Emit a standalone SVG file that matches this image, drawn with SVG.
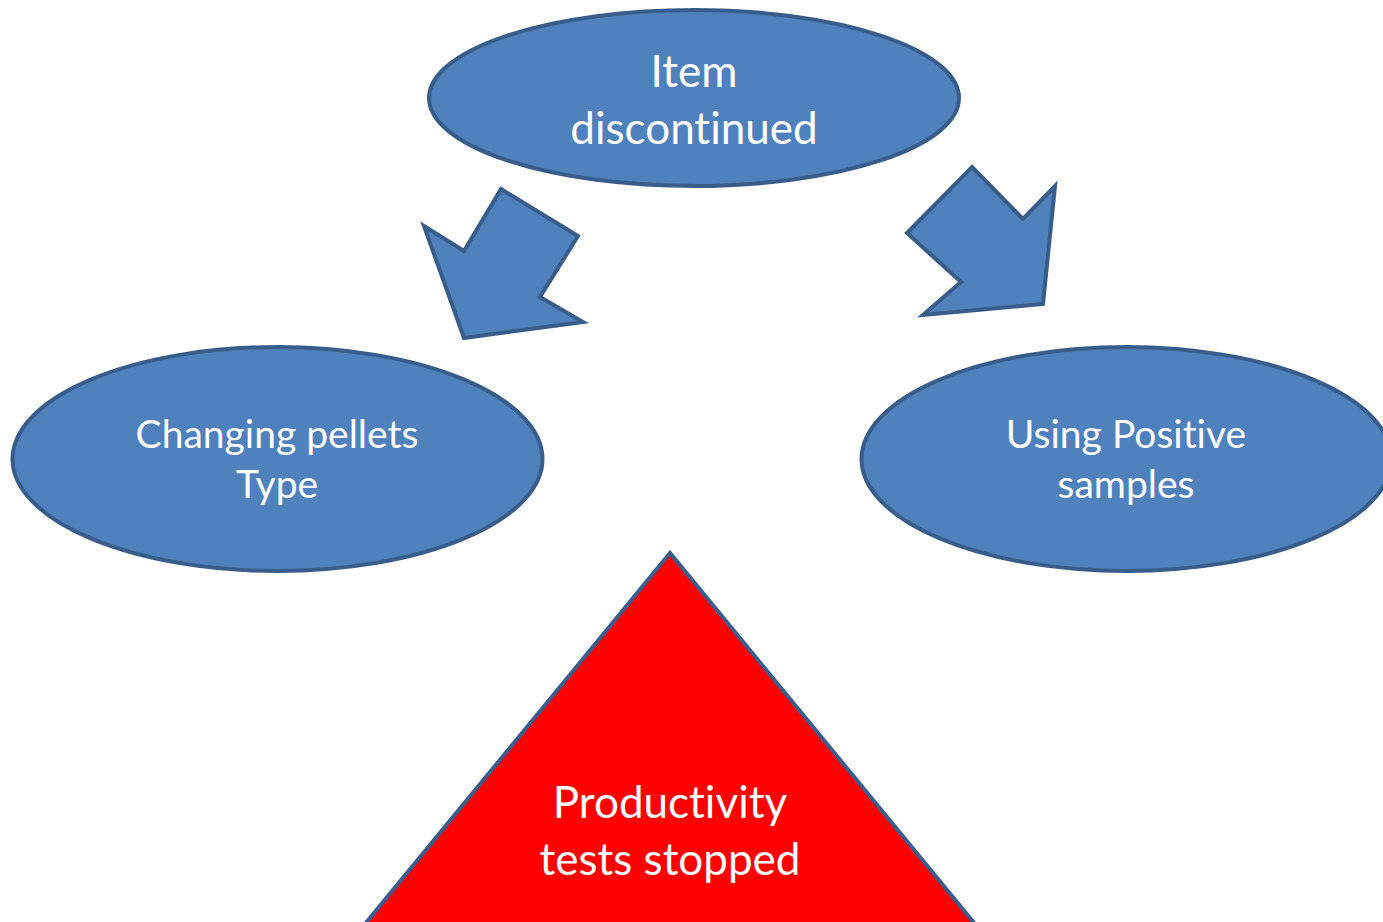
<svg xmlns="http://www.w3.org/2000/svg" width="1383" height="922" viewBox="0 0 1383 922">
<style>
.node{fill:#4f81bd;stroke:#385d8a;stroke-width:4}
.tri{fill:#ff0000;stroke:#3b5d8c;stroke-width:4}
.arrow{fill:#4f81bd;stroke:#385d8a;stroke-width:4;stroke-linejoin:miter}
.lbl{font-family:Lato,"Liberation Sans",sans-serif;fill:#ffffff;text-anchor:middle;font-variant-ligatures:none;font-feature-settings:"liga" 0}
.big{font-size:44px}
.mid{font-size:39px}
</style>
<rect width="1383" height="922" fill="#ffffff"/>
<g id="node-item">
<ellipse class="node" cx="694" cy="98" rx="265" ry="88"/>
<text class="lbl big" x="694" y="87">Item</text>
<text class="lbl big" x="694" y="144">discontinued</text>
</g>
<g id="node-pellets">
<ellipse class="node" cx="277.5" cy="459" rx="265" ry="112"/>
<text class="lbl mid" x="277" y="448">Changing pellets</text>
<text class="lbl mid" x="277" y="498">Type</text>
</g>
<g id="node-positive">
<ellipse class="node" cx="1126.5" cy="459" rx="265" ry="112"/>
<text class="lbl mid" x="1126" y="448">Using Positive</text>
<text class="lbl mid" x="1126" y="498">samples</text>
</g>
<g id="node-productivity">
<polygon class="tri" points="670,553 365,924 975,924"/>
<text class="lbl big" x="670" y="818">Productivity</text>
<text class="lbl big" x="670" y="875">tests stopped</text>
</g>
<g id="connectors">
<polygon class="arrow" points="501,189 578,236 540,297 583,322 464,338 424,226 464,251"/>
<polygon class="arrow" points="972,167 1023,219 1055,186 1043,304 923,315 961,282 907,233"/>
</g>
</svg>
